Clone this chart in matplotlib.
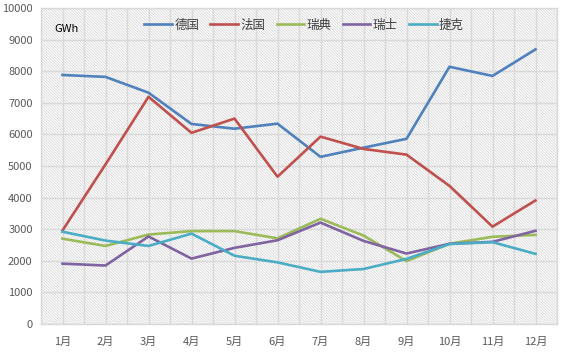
import matplotlib
matplotlib.use("Agg")
import matplotlib.pyplot as plt
from matplotlib.patches import Rectangle
from matplotlib.ticker import MultipleLocator

plt.rcParams['font.family'] = ['Noto Sans CJK SC', 'DejaVu Sans']
plt.rcParams['hatch.linewidth'] = 0.5
plt.rcParams['hatch.color'] = '#d0d0d0'

months = ['1月', '2月', '3月', '4月', '5月', '6月', '7月', '8月', '9月', '10月', '11月', '12月']
series_names = ['德国', '法国', '瑞典', '瑞士', '捷克']
germany = [7880, 7820, 7320, 6330, 6180, 6340, 5290, 5580, 5860, 8140, 7850, 8690]
france = [2960, 5050, 7190, 6050, 6500, 4660, 5930, 5540, 5360, 4370, 3080, 3910]
sweden = [2700, 2470, 2830, 2940, 2940, 2710, 3330, 2800, 1990, 2540, 2760, 2820]
switzerland = [1910, 1850, 2770, 2070, 2410, 2650, 3210, 2630, 2230, 2540, 2600, 2950]
czech = [2920, 2640, 2470, 2860, 2160, 1950, 1650, 1740, 2060, 2530, 2590, 2220]
colors = ['#4F81BD', '#C0504D', '#9BBB59', '#8064A2', '#4BACC6']
unit_label = 'GWh'

fig = plt.figure(figsize=(5.61, 3.56), dpi=100)
ax = fig.add_axes([41/561, 32/356, 516/561, 316/356])

x = list(range(len(months)))
ax.set_xlim(-0.5, len(months) - 0.5)
ax.set_ylim(0, 10000)

# hatched background
bg = Rectangle((0, 0), 1, 1, transform=ax.transAxes, facecolor='white',
               edgecolor='#d0d0d0', hatch='\\' * 12, linewidth=0, zorder=0)
ax.add_patch(bg)

for data, name, c in zip([germany, france, sweden, switzerland, czech], series_names, colors):
    ax.plot(x, data, color=c, lw=1.9, label=name, zorder=3, solid_joinstyle='round')

ax.set_xticks(x)
ax.set_xticklabels(months)
ax.xaxis.set_minor_locator(MultipleLocator(0.5))
ax.yaxis.set_major_locator(MultipleLocator(1000))
ax.grid(True, which='major', axis='y', color='#d9d9d9', lw=1.0, zorder=1)
ax.grid(True, which='both', axis='x', color='#d9d9d9', lw=1.0, zorder=1)
ax.tick_params(axis='both', which='both', length=0, labelsize=8, colors='#595959', pad=6)
ax.tick_params(axis='x', pad=9)
for s in ax.spines.values():
    s.set_color('#d9d9d9')
    s.set_linewidth(1.0)

ax.text(0.025, 0.935, unit_label, transform=ax.transAxes, fontsize=8, color='#000000',
        va='center', ha='left')

leg = ax.legend(loc='center', bbox_to_anchor=(0.51, 0.946), ncol=5, frameon=False,
                fontsize=9, handlelength=2.2, handletextpad=0.2, columnspacing=0.9)
for t in leg.get_texts():
    t.set_color('#404040')

fig.savefig('out.png', dpi=100)
